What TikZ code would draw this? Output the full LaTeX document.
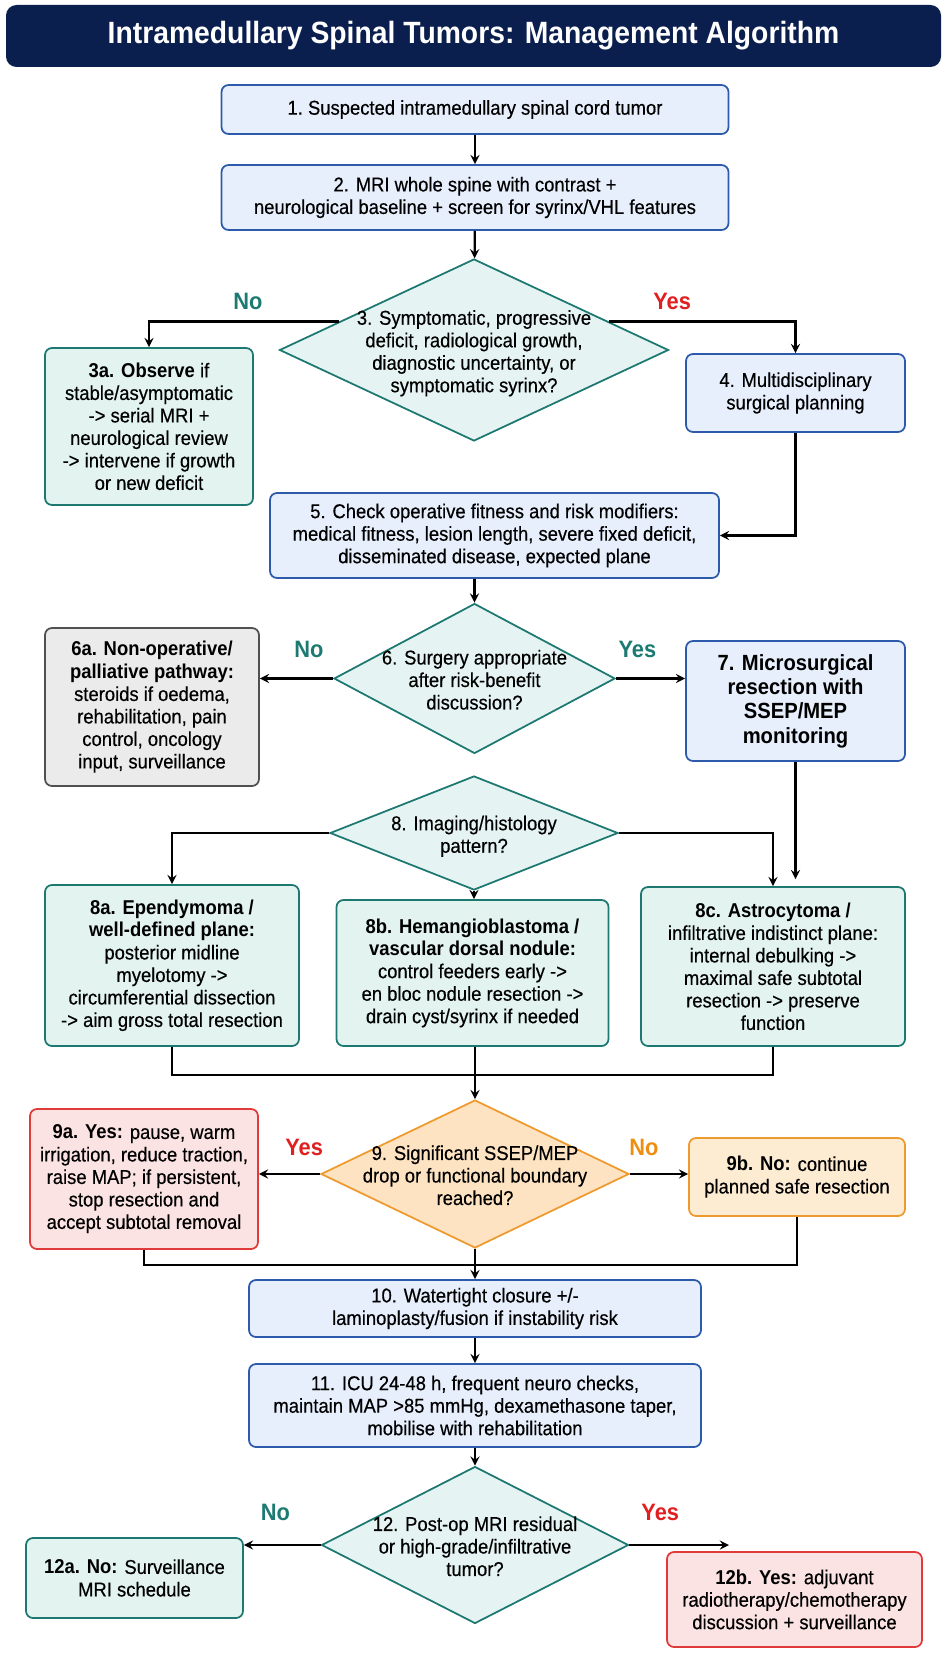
\documentclass[tikz,border=0pt]{standalone}
\usepackage{fontspec}
\setmainfont{Liberation Sans}[FakeStretch=0.92, UprightFeatures={FakeBold=0.4}]
\usetikzlibrary{shapes.geometric, arrows}

\definecolor{navy}{HTML}{0B1F4F}
\definecolor{bFill}{HTML}{E7EFFC}
\definecolor{bDraw}{HTML}{2E5AAC}
\definecolor{tFill}{HTML}{E2F3F0}
\definecolor{tDraw}{HTML}{1C7870}
\definecolor{gFill}{HTML}{EBEBEB}
\definecolor{gDraw}{HTML}{505050}
\definecolor{rFill}{HTML}{FCE3E3}
\definecolor{rDraw}{HTML}{E03A3A}
\definecolor{oFill}{HTML}{FDEBD2}
\definecolor{oDraw}{HTML}{EE9A2E}
\definecolor{dFill}{HTML}{E5F4F2}
\definecolor{doFill}{HTML}{FDE3C2}
\definecolor{labTeal}{HTML}{1C7A72}
\definecolor{labRed}{HTML}{E02020}
\definecolor{labOrange}{HTML}{EE8E10}

\tikzstyle{arrow} = [->,>=stealth, line width=1.3pt]
\tikzstyle{link} = [line width=1.3pt]
\tikzstyle{mBlue}=[rectangle, rounded corners=4pt, draw=bDraw, fill=bFill, line width=1pt, align=center, inner sep=2pt, font=\fontsize{11.4}{12.8}\selectfont]
\tikzstyle{mTeal}=[mBlue, draw=tDraw, fill=tFill]
\tikzstyle{mGray}=[mBlue, draw=gDraw, fill=gFill]
\tikzstyle{mRed}=[mBlue, draw=rDraw, fill=rFill]
\tikzstyle{mOrange}=[mBlue, draw=oDraw, fill=oFill]
\tikzstyle{mDiamond}=[diamond, draw=tDraw, fill=dFill, line width=1pt, inner sep=0pt, text height=0pt, text depth=0pt, font=\fontsize{11.4}{12.8}\selectfont]
\tikzstyle{mLabel}=[inner sep=0pt, font=\fontsize{13.5}{15}\selectfont\bfseries]

\newcommand{\dlines}[1]{\raisebox{-5pt}{\makebox[0pt]{\begin{tabular}{@{}c@{}}#1\end{tabular}}}}

\begin{document}
\begin{tikzpicture}
        \useasboundingbox (0,0) rectangle (18.92,-33.26);
        \node[fill=navy, rounded corners=6pt, minimum width=18.70cm, minimum height=1.24cm, text=white, font=\fontsize{17.5}{20}\selectfont\bfseries] (title) at (9.47,-0.72) {Intramedullary Spinal Tumors: Management Algorithm};

        \node[mBlue, minimum width=10.14cm, minimum height=0.98cm] (n1) at (9.50,-2.19) {1.\ Suspected intramedullary spinal cord tumor};
        \node[mBlue, minimum width=10.14cm, minimum height=1.30cm] (n2) at (9.50,-3.95) {2. MRI whole spine with contrast +\\neurological baseline + screen for syrinx/VHL features};
        \node[mDiamond, minimum width=7.78cm, minimum height=3.64cm] (d3) at (9.48,-7.00) {\dlines{3. Symptomatic, progressive\\deficit, radiological growth,\\diagnostic uncertainty, or\\symptomatic syrinx?}};
        \node[mTeal, minimum width=4.16cm, minimum height=3.14cm] (n3a) at (2.98,-8.53) {\textbf{3a. Observe} if\\stable/asymptomatic\\-> serial MRI +\\neurological review\\-> intervene if growth\\or new deficit};
        \node[mBlue, minimum width=4.38cm, minimum height=1.56cm] (n4) at (15.91,-7.86) {4. Multidisciplinary\\surgical planning};
        \node[mBlue, minimum width=8.98cm, minimum height=1.70cm] (n5) at (9.89,-10.71) {5. Check operative fitness and risk modifiers:\\medical fitness, lesion length, severe fixed deficit,\\disseminated disease, expected plane};

        \node[mDiamond, minimum width=5.62cm, minimum height=3.00cm] (d6) at (9.49,-13.57) {\dlines{6. Surgery appropriate\\after risk-benefit\\discussion?}};
        \node[mGray, minimum width=4.28cm, minimum height=3.16cm] (n6a) at (3.04,-14.14) {\textbf{6a. Non-operative/}\\\textbf{palliative pathway:}\\steroids if oedema,\\rehabilitation, pain\\control, oncology\\input, surveillance};
        \node[mBlue, minimum width=4.38cm, minimum height=2.40cm, font=\fontsize{12.5}{13.8}\selectfont\bfseries] (n7) at (15.91,-14.02) {7. Microsurgical\\resection with\\SSEP/MEP\\monitoring};

        \node[mDiamond, minimum width=5.76cm, minimum height=2.28cm] (d8) at (9.48,-16.66) {\dlines{8. Imaging/histology\\pattern?}};
        \node[mTeal, minimum width=5.08cm, minimum height=3.22cm] (n8a) at (3.44,-19.31) {\textbf{8a. Ependymoma /}\\\textbf{well-defined plane:}\\posterior midline\\myelotomy ->\\circumferential dissection\\-> aim gross total resection};
        \node[mTeal, minimum width=5.44cm, minimum height=2.92cm] (n8b) at (9.45,-19.46) {\textbf{8b. Hemangioblastoma /}\\\textbf{vascular dorsal nodule:}\\control feeders early ->\\en bloc nodule resection ->\\drain cyst/syrinx if needed};
        \node[mTeal, minimum width=5.28cm, minimum height=3.18cm] (n8c) at (15.46,-19.33) {\textbf{8c. Astrocytoma /}\\infiltrative indistinct plane:\\internal debulking ->\\maximal safe subtotal\\resection -> preserve\\function};
        \coordinate (j8) at (9.50,-21.50);

        \node[mDiamond, draw=oDraw, fill=doFill, minimum width=6.16cm, minimum height=2.96cm] (d9) at (9.50,-23.48) {\dlines{9. Significant SSEP/MEP\\drop or functional boundary\\reached?}};
        \node[mRed, minimum width=4.56cm, minimum height=2.80cm] (n9a) at (2.88,-23.58) {\textbf{9a. Yes:} pause, warm\\irrigation, reduce traction,\\raise MAP; if persistent,\\stop resection and\\accept subtotal removal};
        \node[mOrange, minimum width=4.32cm, minimum height=1.56cm] (n9b) at (15.94,-23.54) {\textbf{9b. No:} continue\\planned safe resection};
        \coordinate (j9) at (9.50,-25.30);

        \node[mBlue, minimum width=9.04cm, minimum height=1.14cm] (n10) at (9.50,-26.17) {10. Watertight closure +/-\\laminoplasty/fusion if instability risk};
        \node[mBlue, minimum width=9.04cm, minimum height=1.66cm] (n11) at (9.50,-28.11) {11. ICU 24-48 h, frequent neuro checks,\\maintain MAP >85 mmHg, dexamethasone taper,\\mobilise with rehabilitation};

        \node[mDiamond, minimum width=6.14cm, minimum height=3.14cm] (d12) at (9.50,-30.90) {\dlines{12. Post-op MRI residual\\or high-grade/infiltrative\\tumor?}};
        \node[mTeal, minimum width=4.34cm, minimum height=1.60cm] (n12a) at (2.69,-31.56) {\textbf{12a. No:} Surveillance\\MRI schedule};
        \node[mRed, minimum width=5.10cm, minimum height=1.90cm] (n12b) at (15.89,-31.99) {\textbf{12b. Yes:} adjuvant\\radiotherapy/chemotherapy\\discussion + surveillance};
        \coordinate (y12) at (14.58,-30.90);

        \draw[arrow] (n1) -- (n2);
        \draw[arrow] (n2) -- (d3);
        \draw[arrow] (d3.168) -| node[mLabel, pos=0.24, above=6pt, text=labTeal] (l3no) {No} (n3a.north);
        \draw[arrow] (d3.12) -| node[mLabel, pos=0.17, above=6pt, text=labRed] (l3yes) {Yes} (n4.north);
        \draw[arrow] (n4.south) |- (n5.east);
        \draw[arrow] (n5.south -| d6.north) -- (d6.north);

        \draw[arrow] (d6.west) -- node[mLabel, pos=0.33, above=11pt, text=labTeal] (l6no) {No} (d6.west -| n6a.east);
        \draw[arrow] (d6.east) -- node[mLabel, pos=0.31, above=11pt, text=labTeal] (l6yes) {Yes} (d6.east -| n7.west);
        \draw[arrow, shorten >=4pt] (n7.south) -- (n7.south |- n8c.north);

        \draw[arrow] (d8.west) -| (n8a.north);
        \draw[arrow] (d8.east) -| (n8c.north);
        \draw[arrow] (d8.south) -- (d8.south |- n8b.north);

        \draw[link] (n8a.south) |- (j8);
        \draw[link] (n8c.south) |- (j8);
        \draw[arrow] (n8b.south -| d9.north) -- (d9.north);

        \draw[arrow] (d9.west) -- node[mLabel, pos=0.26, above=9.5pt, text=labRed] (l9yes) {Yes} (d9.west -| n9a.east);
        \draw[arrow] (d9.east) -- node[mLabel, pos=0.24, above=9.5pt, text=labOrange] (l9no) {No} (d9.east -| n9b.west);
        \draw[link] (n9a.south) |- (j9);
        \draw[link] (n9b.south) |- (j9);
        \draw[arrow] (d9.south) -- (n10.north);

        \draw[arrow] (n10) -- (n11);
        \draw[arrow] (n11) -- (d12);
        \draw[arrow] (d12.west) -- node[mLabel, pos=0.59, above=13pt, text=labTeal] (l12no) {No} (d12.west -| n12a.east);
        \draw[arrow] (d12.east) -- node[mLabel, pos=0.31, above=13pt, text=labRed] (l12yes) {Yes} (y12);
\end{tikzpicture}
\end{document}
